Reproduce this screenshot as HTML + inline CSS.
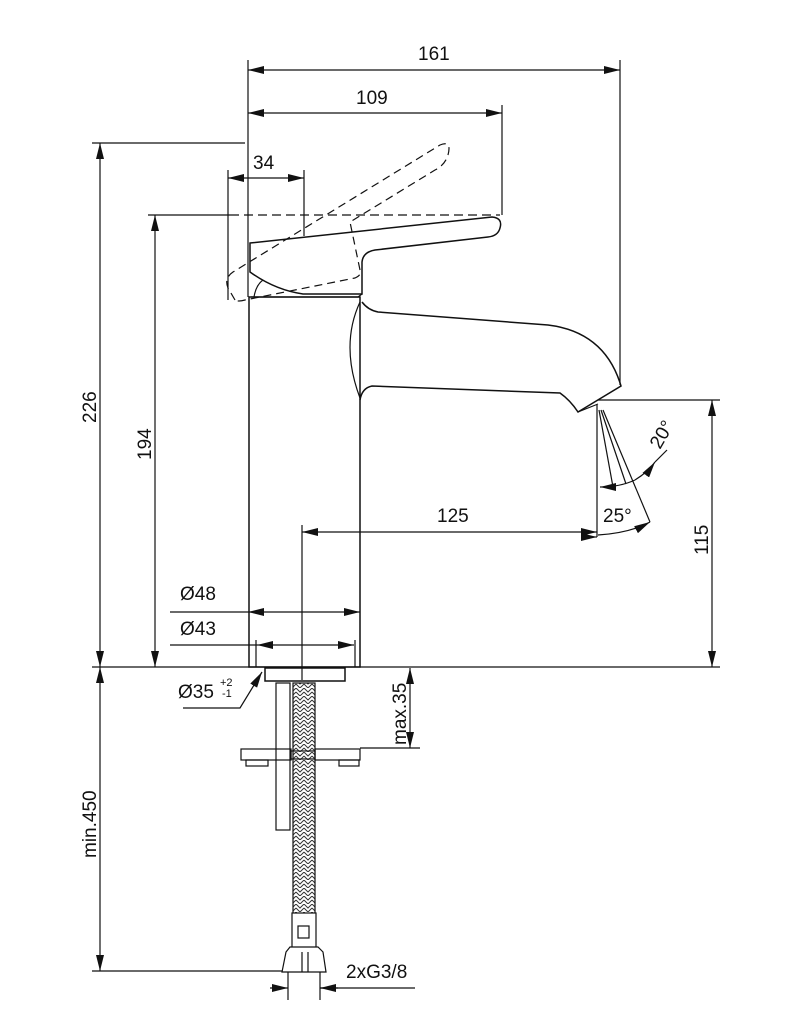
<!DOCTYPE html>
<html><head><meta charset="utf-8"><style>
html,body{margin:0;padding:0;background:#fff}
svg{display:block}
text{font-family:"Liberation Sans",sans-serif;font-size:19px;fill:#111}
</style></head><body>
<svg width="791" height="1024" viewBox="0 0 791 1024" xmlns="http://www.w3.org/2000/svg">
<defs>
<marker id="a" viewBox="0 0 16 8" refX="16" refY="4" markerWidth="16" markerHeight="8" orient="auto-start-reverse" markerUnits="userSpaceOnUse"><path d="M0,0L16,4L0,8z" fill="#111"/></marker>
<pattern id="br" width="8" height="8" patternUnits="userSpaceOnUse"><path d="M0,0L4,4L8,0M0,4L4,8L8,4" stroke="#333" fill="none" stroke-width="1"/></pattern>
</defs>
<g stroke="#111" stroke-width="1.2" fill="none">
<line x1="248" y1="60" x2="248" y2="297"/>
<line x1="620" y1="60" x2="620" y2="385"/>
<line x1="502" y1="105" x2="502" y2="215"/>
<line x1="228" y1="170" x2="228" y2="300"/>
<line x1="304" y1="170" x2="304" y2="236"/>
<line x1="92" y1="143" x2="245" y2="143"/>
<line x1="148" y1="215" x2="230" y2="215"/>
<line x1="230" y1="215" x2="500" y2="215" stroke-dasharray="9,5"/>
<line x1="92" y1="667" x2="720" y2="667"/>
<line x1="598" y1="400" x2="720" y2="400"/>
<line x1="302" y1="525" x2="302" y2="680"/>
<line x1="597" y1="405" x2="597" y2="537"/>
<line x1="360" y1="748" x2="420" y2="748"/>
<line x1="92" y1="971" x2="282" y2="971"/>
<line x1="288" y1="972" x2="288" y2="1000"/>
<line x1="320" y1="972" x2="320" y2="1000"/>
<line x1="248" y1="70" x2="620" y2="70" marker-start="url(#a)" marker-end="url(#a)"/>
<line x1="248" y1="113" x2="502" y2="113" marker-start="url(#a)" marker-end="url(#a)"/>
<line x1="228" y1="178" x2="304" y2="178" marker-start="url(#a)" marker-end="url(#a)"/>
<line x1="100" y1="143" x2="100" y2="667" marker-start="url(#a)" marker-end="url(#a)"/>
<line x1="155" y1="215" x2="155" y2="667" marker-start="url(#a)" marker-end="url(#a)"/>
<line x1="712" y1="400" x2="712" y2="667" marker-start="url(#a)" marker-end="url(#a)"/>
<line x1="302" y1="532" x2="597" y2="532" marker-start="url(#a)" marker-end="url(#a)"/>
<line x1="170" y1="612" x2="248" y2="612"/>
<line x1="248" y1="612" x2="360" y2="612" marker-start="url(#a)" marker-end="url(#a)"/>
<line x1="170" y1="645" x2="257" y2="645"/>
<line x1="257" y1="645" x2="354" y2="645" marker-start="url(#a)" marker-end="url(#a)"/>
<line x1="410" y1="668" x2="410" y2="748" marker-start="url(#a)" marker-end="url(#a)"/>
<line x1="100" y1="667" x2="100" y2="971" marker-start="url(#a)" marker-end="url(#a)"/>
<line x1="270" y1="988" x2="288" y2="988" marker-end="url(#a)"/>
<line x1="338" y1="988" x2="320" y2="988" marker-end="url(#a)"/>
<line x1="320" y1="988" x2="415" y2="988"/>
<polyline points="183,708 240,708 262,672" marker-end="url(#a)"/>
<rect x="249" y="297" width="111" height="370" stroke-width="1.5"/>
<line x1="256" y1="640" x2="256" y2="667"/>
<line x1="355" y1="640" x2="355" y2="667"/>
<rect x="265" y="668" width="80" height="13" stroke-width="1.5"/>
<path d="M250,243 L492,217 Q503,218 500,228 Q498,236 488,237 L375,250 Q363,252 362,262 L362,294 L355,294 L303,294 Q275,290 250,272 Z" stroke-width="1.5"/>
<path d="M254,297 Q256,285 263,280" />
<path d="M251,297 L358,297 L362,294"/>
<path d="M235,300 L228,288 Q224,278 233,272 L440,145 Q452,140 448,155 Q445,165 435,170 L350,222 L360,270 Q362,275 355,278 L245,300 Q238,302 235,300 Z" stroke-dasharray="8,5"/>
<path d="M362,302 Q368,310 378,312 L548,325 Q605,332 621,386 L578,412 Q570,400 560,393 L372,386 Q362,388 360,400" stroke-width="1.5"/>
<path d="M360,302 Q340,345 360,398"/>
<path d="M578,412 L598,404"/>
<line x1="599" y1="410" x2="613" y2="487"/>
<line x1="601" y1="410" x2="626" y2="484"/>
<line x1="603" y1="410" x2="650" y2="522"/>
<path d="M600,487 Q620,487 635,480" marker-start="url(#a)"/>
<path d="M635,480 Q648,472 655,462" marker-end="url(#a)" />
<path d="M655,462 L667,450"/>
<path d="M598,535 Q630,533 650,522" marker-end="url(#a)"/>
<path d="M583,537 L597,537" marker-end="url(#a)"/>
<rect x="293" y="683" width="22" height="270" fill="url(#br)"/>
<rect x="276" y="683" width="14" height="147"/>
<rect x="241" y="749" width="50" height="11"/>
<rect x="315" y="749" width="45" height="11"/>
<rect x="291" y="751" width="24" height="8"/>
<rect x="246" y="760" width="22" height="6"/>
<rect x="339" y="760" width="20" height="6"/>
<rect x="292" y="913" width="24" height="35" fill="#fff"/>
<rect x="298" y="926" width="11" height="12"/>
<path d="M286,952 L290,947 L318,947 L323,952 L326,972 L282,972 Z" fill="#fff"/>
<line x1="302" y1="952" x2="302" y2="972"/>
<line x1="308" y1="952" x2="308" y2="972"/>
</g>
<text x="418" y="60">161</text>
<text x="356" y="104">109</text>
<text x="253" y="169">34</text>
<text x="180" y="600">Ø48</text>
<text x="180" y="635">Ø43</text>
<text x="178" y="698">Ø35</text>
<text x="220" y="686" style="font-size:11px">+2</text>
<text x="222" y="697" style="font-size:11px">-1</text>
<text x="437" y="522">125</text>
<text x="346" y="978">2xG3/8</text>
<text transform="translate(96,423) rotate(-90)">226</text>
<text transform="translate(151,460) rotate(-90)">194</text>
<text transform="translate(708,555) rotate(-90)">115</text>
<text transform="translate(406,745) rotate(-90)">max.35</text>
<text transform="translate(96,858) rotate(-90)">min.450</text>
<text transform="translate(660,450) rotate(-60)">20°</text>
<text x="603" y="522">25°</text>
</svg>
</body></html>
